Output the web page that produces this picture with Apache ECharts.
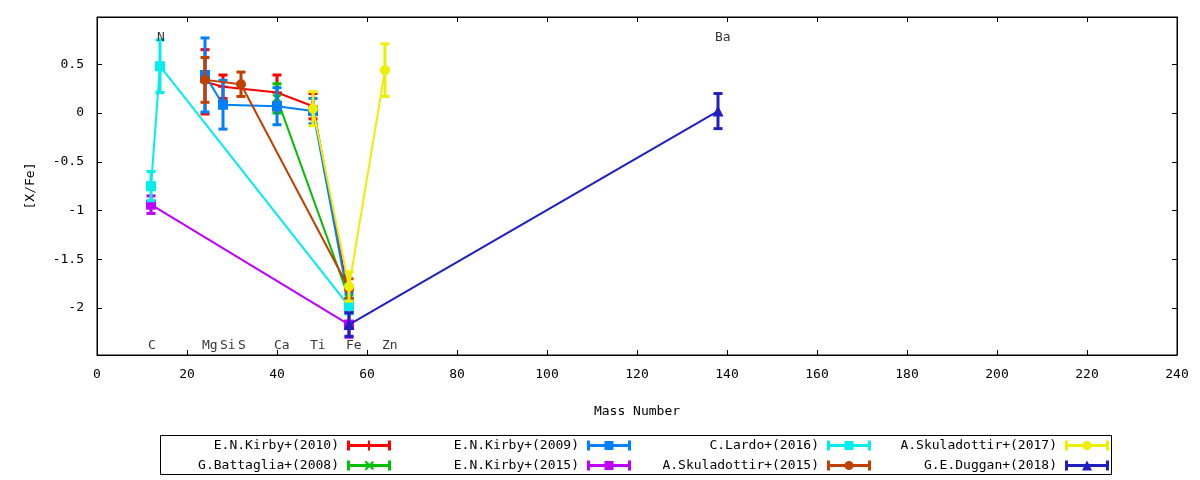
<!DOCTYPE html>
<html>
<head>
<meta charset="utf-8">
<script src="https://cdn.jsdelivr.net/npm/echarts@6/dist/echarts.min.js"></script>
<style>
html,body{margin:0;padding:0;background:#fff;}
#chart{width:1200px;height:480px;}
</style>
</head>
<body>
<div id="chart"></div>
<script>
// ---- data (mass number, [X/Fe], error) ----
const kirby2010Mass = [24, 28, 40, 48, 56];
const kirby2010Val  = [0.32, 0.27, 0.21, 0.07, -1.90];
const kirby2010Err  = [0.33, 0.12, 0.18, 0.13, 0.08];

const battaglia2008Mass = [40, 56];
const battaglia2008Val  = [0.15, -1.90];
const battaglia2008Err  = [0.15, 0.12];

const kirby2009Mass = [24, 28, 40, 48, 56];
const kirby2009Val  = [0.39, 0.085, 0.07, 0.02, -1.95];
const kirby2009Err  = [0.38, 0.25, 0.19, 0.13, 0.10];

const kirby2015Mass = [12, 56];
const kirby2015Val  = [-0.94, -2.17];
const kirby2015Err  = [0.09, 0.13];

const lardo2016Mass = [12, 14, 56];
const lardo2016Val  = [-0.75, 0.48, -1.98];
const lardo2016Err  = [0.15, 0.27, 0.08];

const skuladottir2015Mass = [24, 32, 56];
const skuladottir2015Val  = [0.34, 0.295, -1.80];
const skuladottir2015Err  = [0.23, 0.125, 0.10];

const skuladottir2017Mass = [48, 56, 64];
const skuladottir2017Val  = [0.045, -1.78, 0.44];
const skuladottir2017Err  = [0.175, 0.15, 0.27];

const duggan2018Mass = [56, 138];
const duggan2018Val  = [-2.17, 0.02];
const duggan2018Err  = [0.12, 0.18];

const seriesNames = ['E.N.Kirby+(2010)', 'G.Battaglia+(2008)', 'E.N.Kirby+(2009)', 'E.N.Kirby+(2015)',
                     'C.Lardo+(2016)', 'A.Skuladottir+(2015)', 'A.Skuladottir+(2017)', 'G.E.Duggan+(2018)'];

// element labels: name, mass, [X/Fe] position
const elementNames = ['C', 'N', 'Mg', 'Si', 'S', 'Ca', 'Ti', 'Fe', 'Zn', 'Ba'];
const elementMass  = [12, 14, 24, 28, 32, 40, 48, 56, 64, 138];
const elementLabelY = [-2.39, 0.77, -2.39, -2.39, -2.39, -2.39, -2.39, -2.39, -2.39, 0.77];

const xTicks = [0, 20, 40, 60, 80, 100, 120, 140, 160, 180, 200, 220, 240];
const yTicks = [-2, -1.5, -1, -0.5, 0, 0.5];

// ---- styling ----
const FONT = 'DejaVu Sans Mono';
const colors = ['#ff0000', '#00c000', '#0080ff', '#c000ff', '#00eeee', '#c04000', '#eeee00', '#2020c0'];
const plusPath = 'path://M4,0h2v10h-2z M0,4h10v2h-10z';
const symbols = [plusPath, plusPath, 'rect', 'rect', 'rect', 'circle', 'circle', 'triangle'];
const symbolRot = [0, 45, 0, 0, 0, 0, 0, 0];
const symbolSizes = [10, 11, 10, 10, 10, 10, 10, 11];

const barBase = 'M0,0h3v10h-3z M41,0h3v10h-3z M0,3.5h44v3h-44z ';
const legendIcons = [
  'path://' + barBase + 'M21,0h2v10h-2z',
  'path://' + barBase + 'M17.5,1.5l1.5,-1.5l8,8l-1.5,1.5z M17.5,8.5l8,-8l1.5,1.5l-8,8z',
  'path://' + barBase + 'M17.5,0.5h9v9h-9z',
  'path://' + barBase + 'M17.5,0.5h9v9h-9z',
  'path://' + barBase + 'M17.5,0.5h9v9h-9z',
  'path://' + barBase + 'M17.5,5a4.5,4.5 0 1,1 9,0a4.5,4.5 0 1,1 -9,0z',
  'path://' + barBase + 'M17.5,5a4.5,4.5 0 1,1 9,0a4.5,4.5 0 1,1 -9,0z',
  'path://' + barBase + 'M22,0L27,10L17,10z'
];

const allData = [
  [kirby2010Mass, kirby2010Val, kirby2010Err],
  [battaglia2008Mass, battaglia2008Val, battaglia2008Err],
  [kirby2009Mass, kirby2009Val, kirby2009Err],
  [kirby2015Mass, kirby2015Val, kirby2015Err],
  [lardo2016Mass, lardo2016Val, lardo2016Err],
  [skuladottir2015Mass, skuladottir2015Val, skuladottir2015Err],
  [skuladottir2017Mass, skuladottir2017Val, skuladottir2017Err],
  [duggan2018Mass, duggan2018Val, duggan2018Err]
];

function errRender(params, api) {
  const x = api.value(0), y = api.value(1), e = api.value(2);
  const hi = api.coord([x, y + e]);
  const lo = api.coord([x, y - e]);
  const c = api.visual('color');
  const cw = 4.5;
  const st = { stroke: c, lineWidth: 3 };
  return {
    type: 'group',
    children: [
      { type: 'line', shape: { x1: hi[0], y1: hi[1], x2: lo[0], y2: lo[1] }, style: st },
      { type: 'line', shape: { x1: hi[0] - cw, y1: hi[1], x2: hi[0] + cw, y2: hi[1] }, style: st },
      { type: 'line', shape: { x1: lo[0] - cw, y1: lo[1], x2: lo[0] + cw, y2: lo[1] }, style: st }
    ]
  };
}

const series = [];
allData.forEach((d, i) => {
  const [m, v, e] = d;
  series.push({
    name: seriesNames[i] + ' err',
    type: 'custom',
    renderItem: errRender,
    encode: { x: 0, y: 1 },
    data: m.map((mm, k) => [mm, v[k], e[k]]),
    itemStyle: { color: colors[i] },
    z: 10 + 2 * i,
    clip: false,
    silent: true
  });
  series.push({
    name: seriesNames[i],
    type: 'line',
    data: m.map((mm, k) => [mm, v[k]]),
    symbol: symbols[i],
    symbolRotate: symbolRot[i],
    symbolSize: symbolSizes[i],
    showAllSymbol: true,
    itemStyle: { color: colors[i] },
    lineStyle: { color: colors[i], width: 2 },
    z: 11 + 2 * i,
    silent: true
  });
});

series.push({
  name: 'elements',
  type: 'scatter',
  data: elementNames.map((n, k) => ({ name: n, value: [elementMass[k], elementLabelY[k]] })),
  symbolSize: 0,
  silent: true,
  z: 40,
  label: {
    show: true,
    position: 'inside',
    align: 'left',
    verticalAlign: 'middle',
    offset: [-3, 0],
    formatter: p => p.name,
    fontFamily: FONT,
    fontSize: 13,
    color: '#000'
  }
});

const legendColRight = [391, 631, 871, 1109];
const legendRowCenter = [444, 464];
const legends = seriesNames.map((n, i) => ({
  data: [n],
  orient: 'horizontal',
  align: 'right',
  right: 1200 - legendColRight[Math.floor(i / 2)],
  top: legendRowCenter[i % 2] - 5,
  padding: 0,
  itemWidth: 44,
  itemHeight: 10,
  itemGap: 0,
  icon: legendIcons[i],
  selectedMode: false,
  textStyle: { fontFamily: FONT, fontSize: 13, color: '#000', padding: [0, 3, 0, 0] }
}));

const axisCommon = {
  axisLine: { show: true, onZero: false, lineStyle: { color: '#000', width: 1 } },
  splitLine: { show: false }
};

const option = {
  animation: false,
  backgroundColor: '#fff',
  grid: { left: 97, right: 23, top: 17, bottom: 125, show: true, borderColor: '#000', borderWidth: 1, backgroundColor: 'transparent' },
  legend: legends,
  xAxis: [
    Object.assign({
      type: 'value', min: 0, max: 240, interval: 20, position: 'bottom',
      name: 'Mass Number', nameLocation: 'middle', nameGap: 50,
      nameTextStyle: { fontFamily: FONT, fontSize: 13, color: '#000' },
      axisTick: { show: true, inside: true, length: 5, lineStyle: { color: '#000' } },
      axisLabel: { fontFamily: FONT, fontSize: 13, color: '#000', margin: 13, formatter: v => xTicks.includes(v) ? String(v) : '' }
    }, axisCommon),
    Object.assign({
      type: 'value', min: 0, max: 240, interval: 20, position: 'top',
      axisTick: { show: true, inside: true, length: 5, lineStyle: { color: '#000' } },
      axisLabel: { show: false }
    }, axisCommon)
  ],
  yAxis: [
    Object.assign({
      type: 'value', min: -2.482, max: 0.985, position: 'left',
      name: '[X/Fe]', nameLocation: 'middle', nameGap: 60, nameRotate: 90,
      nameTextStyle: { fontFamily: FONT, fontSize: 13, color: '#000' },
      axisTick: { show: true, inside: true, length: 5, lineStyle: { color: '#000' }, customValues: yTicks },
      axisLabel: { fontFamily: FONT, fontSize: 13, color: '#000', margin: 13, customValues: yTicks }
    }, axisCommon),
    Object.assign({
      type: 'value', min: -2.482, max: 0.985, position: 'right',
      axisTick: { show: true, inside: true, length: 5, lineStyle: { color: '#000' }, customValues: yTicks },
      axisLabel: { show: false }
    }, axisCommon)
  ],
  graphic: [
    { type: 'rect', shape: { x: 160.5, y: 435.5, width: 951, height: 39 }, style: { fill: 'none', stroke: '#000', lineWidth: 1 }, z: 100 }
  ],
  series: series
};

const chart = echarts.init(document.getElementById('chart'), null, { renderer: 'canvas' });
chart.setOption(option);
</script>
</body>
</html>
